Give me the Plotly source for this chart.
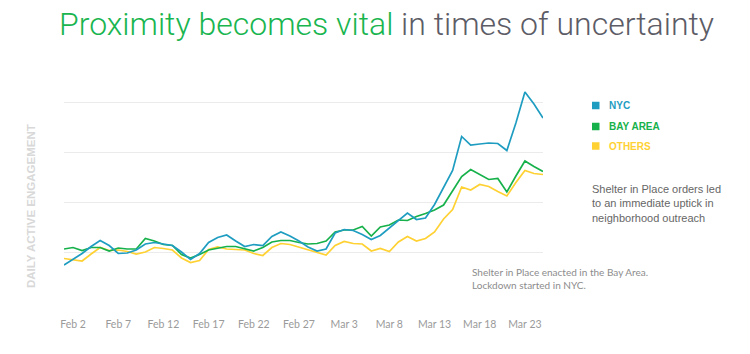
import plotly.graph_objects as go
import pandas as pd

dates = pd.date_range("2020-02-01", "2020-03-25", freq="D")

nyc = [74, 86, 97, 111, 123, 113, 97, 98, 104, 116, 119, 116, 113, 100, 85, 97, 119, 129, 134, 122,
       111, 115, 113, 131, 140, 132, 122, 110, 102, 106, 138, 145, 143, 135, 125, 133, 148, 163, 178, 165,
       168, 195, 230, 263, 331, 314, 316, 318, 317, 303, 358, 420, 396, 368]
bay_area = [106, 109, 103, 109, 109, 102, 108, 106, 106, 127, 122, 115, 113, 95, 88, 95, 104, 108, 111, 111,
            107, 102, 109, 120, 123, 123, 119, 116, 117, 122, 140, 144, 144, 151, 132, 150, 154, 164, 163, 171,
            177, 184, 194, 223, 251, 265, 255, 245, 247, 220, 252, 282, 271, 261]
others = [87, 84, 82, 96, 109, 103, 104, 101, 96, 100, 109, 107, 104, 88, 79, 83, 105, 110, 106, 105,
          104, 97, 93, 109, 117, 115, 110, 105, 100, 94, 113, 121, 117, 116, 102, 107, 101, 120, 131, 122,
          127, 140, 166, 185, 230, 224, 235, 231, 221, 212, 239, 263, 257, 255]

series_names = ["NYC", "BAY AREA", "OTHERS"]
series_values = [nyc, bay_area, others]
colors = ["#1f9dc1", "#17b14b", "#ffd133"]

tick_dates = pd.date_range("2020-02-02", "2020-03-23", freq="5D")
tick_labels = [f"{d.strftime('%b')} {d.day}" for d in tick_dates]
grid_vals = [0, 100, 200, 300, 400]

fig = go.Figure()
# draw others first so NYC is on top
for name, vals, col in list(zip(series_names, series_values, colors))[::-1]:
    fig.add_trace(go.Scatter(x=dates, y=vals, mode="lines", name=name,
                             line=dict(color=col, width=1.7), showlegend=False,
                             hoverinfo="skip"))

fig.update_layout(
    width=750, height=354,
    margin=dict(l=64, r=207, t=82, b=52),
    paper_bgcolor="white", plot_bgcolor="white",
    xaxis=dict(type="date", range=[dates[0], dates[-1]], tickvals=tick_dates, ticktext=tick_labels,
               showgrid=False, zeroline=False, showline=False, ticks="outside", ticklen=12,
               tickcolor="rgba(0,0,0,0)", tickfont=dict(family="Lato", size=10.5, color="#9a9a9a")),
    yaxis=dict(range=[0, 440], tickvals=grid_vals, showticklabels=False, gridcolor="#ebebeb",
               gridwidth=1, zeroline=False, showline=False),
    font=dict(family="Lato"),
)

fig.add_annotation(xref="paper", yref="paper", x=-(64 - 57) / 479, y=1 + (82 - 24) / 220,
                   xanchor="left", yanchor="middle", showarrow=False,
                   text="<span style='color:#19b54f'>Proximity becomes vital</span> in times of uncertainty",
                   font=dict(family="Roboto", size=32, color="#5c5c66", weight=300))
fig.add_annotation(xref="paper", yref="paper", x=(31 - 64) / 479, y=(302 - 206) / 220,
                   xanchor="center", yanchor="middle", showarrow=False, textangle=-90,
                   text="<b>DAILY ACTIVE ENGAGEMENT</b>",
                   font=dict(family="Liberation Sans", size=11.5, color="#d8d8d8"))

legend_y = [105.5, 126.5, 146]
for name, col, yp in zip(series_names, colors, legend_y):
    fig.add_shape(type="rect", xref="paper", yref="paper",
                  x0=(592 - 64) / 479, x1=(599.5 - 64) / 479,
                  y0=(302 - yp - 3.75) / 220, y1=(302 - yp + 3.75) / 220,
                  fillcolor=col, line=dict(width=0))
    fig.add_annotation(xref="paper", yref="paper", x=(607 - 64) / 479, y=(302 - yp) / 220,
                       xanchor="left", yanchor="middle", showarrow=False,
                       text=f"<b>{name}</b>", font=dict(family="Liberation Sans", size=10, color=col))

fig.add_annotation(xref="paper", yref="paper", x=(590 - 64) / 479, y=(302 - 203) / 220,
                   xanchor="left", yanchor="middle", showarrow=False, align="left",
                   text="Shelter in Place orders led<br>to an immediate uptick in<br>neighborhood outreach",
                   font=dict(family="Liberation Sans", size=11, color="#666666"))
fig.add_annotation(xref="paper", yref="paper", x=(470 - 64) / 479, y=(302 - 278) / 220,
                   xanchor="left", yanchor="middle", showarrow=False, align="left",
                   text="Shelter in Place enacted in the Bay Area.<br>Lockdown started in NYC.",
                   font=dict(family="Lato", size=10, color="#8c8c8c"))

fig.write_html("out.html")
